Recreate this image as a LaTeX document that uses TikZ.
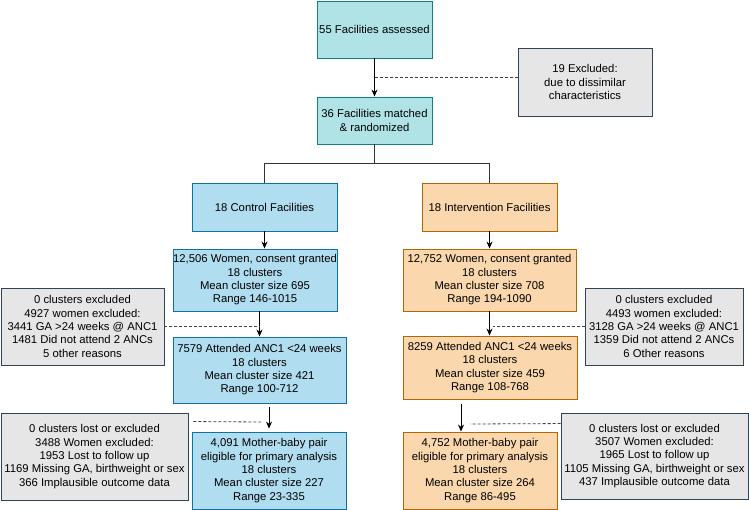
\documentclass[tikz,border=0pt]{standalone}
\usepackage{fontspec}
\setmainfont{Liberation Sans}
\usepackage{xcolor}
\usetikzlibrary{positioning,calc,arrows.meta}
\definecolor{tealfill}{HTML}{B0E3E6}
\definecolor{tealline}{HTML}{0E8088}
\definecolor{bluefill}{HTML}{B1DDF0}
\definecolor{blueline}{HTML}{10739E}
\definecolor{orangefill}{HTML}{FAD7AC}
\definecolor{orangeline}{HTML}{B46504}
\definecolor{greyfill}{HTML}{E6E6E6}
\definecolor{greyline}{HTML}{314354}

\tikzset{
  box/.style={draw,line width=0.9pt,align=center,inner sep=0pt,
    font=\fontsize{11.3}{13.3}\selectfont},
  tealbox/.style={box,fill=tealfill,draw=tealline},
  ctrlbox/.style={box,fill=bluefill,draw=blueline},
  intbox/.style={box,fill=orangefill,draw=orangeline},
  exbox/.style={box,fill=greyfill,draw=greyline},
  arrow/.style={-{Stealth[length=7pt,width=6pt]},line width=0.9pt},
  dashline/.style={dashed,line width=0.8pt,dash pattern=on 3pt off 2pt,black!75}
}

\begin{document}
\begin{tikzpicture}[x=1pt,y=-1pt]
    \useasboundingbox (0,0) rectangle (749,510);

    % Facilities
    \node[tealbox,minimum width=115,minimum height=57] (assessed) at (374.5,29.5) {55 Facilities assessed};
    \node[exbox,minimum width=134,minimum height=68] (exfac) at (585,82) {19 Excluded:\\due to dissimilar\\characteristics};
    \node[tealbox,minimum width=115,minimum height=47] (matched) at (374.5,120.5) {36 Facilities matched\\\& randomized};
    \draw[arrow] (assessed) -- (matched);
    \draw[dashline] ([yshift=5pt]exfac.west) -- ([yshift=5pt]exfac.west -| assessed.south);

    % Randomisation split
    \coordinate (split) at (374.5,163);
    \node[ctrlbox,minimum width=145,minimum height=48] (ctrl) at (264.5,207) {18 Control Facilities};
    \node[intbox,minimum width=135,minimum height=48] (interv) at (489.5,207) {18 Intervention Facilities};
    \draw[line width=0.9pt,black!80] (matched) -- (split);
    \draw[line width=0.9pt,black!80] (split) -| (ctrl.north);
    \draw[line width=0.9pt,black!80] (split) -| (interv.north);

    % Control arm
    \node[ctrlbox,minimum width=164,minimum height=62] (ctrlwomen) at (255,280) {12,506 Women, consent granted\\18 clusters\\Mean cluster size 695\\Range 146-1015};
    \node[ctrlbox,minimum width=173,minimum height=66] (ctrlanc) at (259.5,370) {7579 Attended ANC1 <24 weeks\\18 clusters\\Mean cluster size 421\\Range 100-712};
    \node[ctrlbox,minimum width=154,minimum height=77] (ctrlpair) at (269,470.5) {4,091 Mother-baby pair\\eligible for primary analysis\\18 clusters\\Mean cluster size 227\\Range 23-335};
    \node[exbox,minimum width=163,minimum height=77] (ctrlex1) at (82.5,326.5) {0 clusters excluded\\4927 women excluded:\\3441 GA >24 weeks @ ANC1\\1481 Did not attend 2 ANCs\\5 other reasons};
    \node[exbox,minimum width=187,minimum height=87] (ctrlex2) at (94.5,456.5) {0 clusters lost or excluded\\3488 Women excluded:\\1953 Lost to follow up\\1169 Missing GA, birthweight or sex\\366 Implausible outcome data};
    \coordinate (ctrlend) at (261,422);
    \draw[arrow] (ctrl.south) -- (ctrl.south |- ctrlwomen.north);
    \draw[arrow] (ctrlanc.north |- ctrlwomen.south) -- (ctrlanc.north);
    \draw[arrow,shorten <=4pt,shorten >=3pt] (ctrlpair.north |- ctrlanc.south) -- (ctrlpair.north);
    \draw[dashline] (ctrlex1.east) -- (ctrlex1.east -| ctrlanc.north);
    \draw[dashline] ([xshift=5pt,yshift=-9pt]ctrlex2.north east) -- (ctrlend);

    % Intervention arm
    \node[intbox,minimum width=173,minimum height=62] (intwomen) at (489.5,280) {12,752 Women, consent granted\\18 clusters\\Mean cluster size 708\\Range 194-1090};
    \node[intbox,minimum width=174,minimum height=63] (intanc) at (490,367.5) {8259 Attended ANC1 <24 weeks\\18 clusters\\Mean cluster size 459\\Range 108-768};
    \node[intbox,minimum width=154,minimum height=77] (intpair) at (480,470.5) {4,752 Mother-baby pair\\eligible for primary analysis\\18 clusters\\Mean cluster size 264\\Range 86-495};
    \node[exbox,minimum width=158,minimum height=77] (intex1) at (664,326.5) {0 clusters excluded\\4493 women excluded:\\3128 GA >24 weeks @ ANC1\\1359 Did not attend 2 ANCs\\6 Other reasons};
    \node[exbox,minimum width=187,minimum height=86] (intex2) at (654.5,456) {0 clusters lost or excluded\\3507 Women excluded:\\1965 Lost to follow up\\1105 Missing GA, birthweight or sex\\437 Implausible outcome data};
    \coordinate (intend) at (470,424);
    \draw[arrow] (interv) -- (intwomen);
    \draw[arrow] (intwomen) -- (intwomen.south |- intanc.north);
    \draw[arrow,shorten <=5pt] ([xshift=-29pt]intanc.south) -- ([xshift=-29pt]intanc.south |- intpair.north);
    \draw[dashline] (intex1.west) -- ([xshift=3pt]intex1.west -| intwomen.south);
    \draw[dashline] ([yshift=-11pt]intex2.north west) -- (intend);
\end{tikzpicture}
\end{document}
